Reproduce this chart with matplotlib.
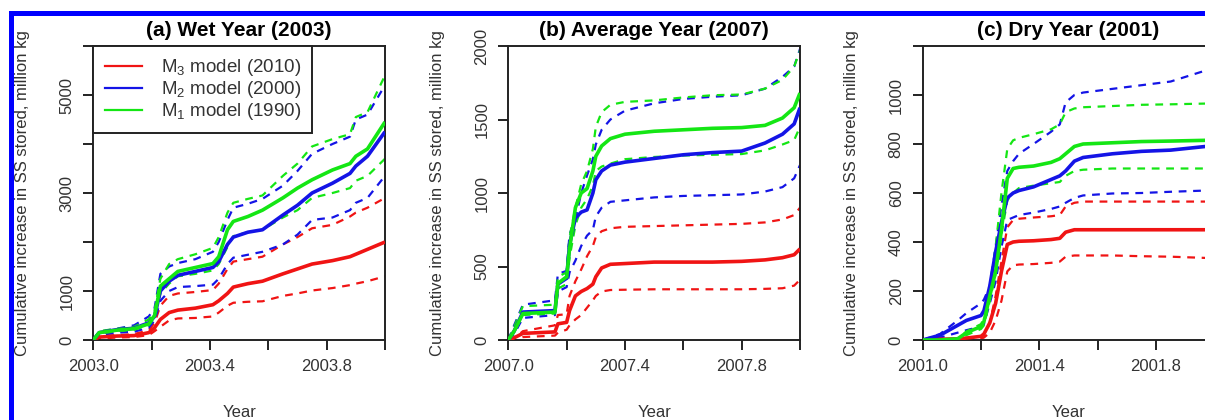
import matplotlib
matplotlib.use("Agg")
import matplotlib.pyplot as plt
from matplotlib.patches import Rectangle
import numpy as np

plt.rcParams['font.family'] = ['Liberation Sans', 'DejaVu Sans']
plt.rcParams['mathtext.fontset'] = 'custom'
plt.rcParams['mathtext.rm'] = 'Liberation Sans'

RED, BLUE, GREEN = '#f01414', '#1414e6', '#14e614'

# ---------------- data: (a) Wet Year (2003) ----------------
a_year = 2003.0
a_t = [0, .02, .08, .14, .19, .21, .23, .26, .29, .35, .41, .43, .46, .48,
       .53, .58, .65, .70, .75, .82, .88, .90, .94, 1.0]
a_m3_mid = [0, 60, 80, 90, 150, 250, 420, 560, 610, 650, 720, 800, 950, 1080,
            1150, 1200, 1350, 1450, 1550, 1620, 1700, 1750, 1850, 2000]
a_m3_hi = [0, 80, 100, 120, 200, 350, 700, 900, 950, 980, 1020, 1150, 1450, 1600,
           1650, 1700, 1950, 2100, 2280, 2350, 2520, 2600, 2700, 2900]
a_m3_lo = [0, 30, 50, 60, 100, 180, 270, 400, 440, 450, 480, 560, 700, 760,
           780, 790, 900, 950, 1010, 1060, 1120, 1150, 1200, 1300]
a_m2_mid = [0, 150, 210, 240, 350, 480, 1000, 1200, 1320, 1400, 1480, 1600, 1950, 2100,
            2200, 2250, 2550, 2750, 3000, 3200, 3400, 3550, 3750, 4250]
a_m2_hi = [0, 170, 230, 300, 480, 650, 1350, 1500, 1570, 1650, 1800, 2000, 2450, 2700,
           2780, 2880, 3150, 3450, 3800, 4000, 4150, 4500, 4600, 5200]
a_m2_lo = [0, 100, 150, 170, 250, 400, 800, 1000, 1080, 1100, 1130, 1250, 1550, 1680,
           1740, 1800, 1950, 2150, 2450, 2500, 2650, 2800, 2900, 3350]
a_m1_mid = [0, 150, 200, 230, 330, 500, 1100, 1250, 1400, 1480, 1560, 1700, 2250, 2420,
            2520, 2650, 2900, 3100, 3270, 3470, 3600, 3750, 3900, 4450]
a_m1_hi = [0, 180, 230, 270, 420, 600, 1250, 1550, 1650, 1750, 1880, 2100, 2600, 2800,
           2880, 2950, 3350, 3600, 3950, 4100, 4200, 4550, 4650, 5400]
a_m1_lo = [0, 130, 180, 210, 300, 450, 950, 1150, 1300, 1350, 1420, 1550, 1900, 2120,
           2200, 2250, 2500, 2650, 2900, 3000, 3100, 3250, 3350, 3700]

# ---------------- data: (b) Average Year (2007) ----------------
b_year = 2007.0
b_t = [0, .02, .05, .16, .17, .20, .21, .23, .25, .27, .29, .30, .32, .35,
       .40, .50, .60, .70, .80, .88, .94, .98, 1.0]
b_m3_mid = [0, 15, 45, 55, 110, 120, 200, 300, 330, 350, 380, 430, 490, 515,
            520, 530, 530, 530, 535, 545, 560, 580, 620]
b_m3_hi = [0, 10, 60, 100, 170, 175, 300, 400, 480, 570, 640, 700, 740, 760,
           770, 775, 780, 785, 790, 800, 820, 850, 900]
b_m3_lo = [0, 5, 20, 30, 50, 70, 100, 140, 170, 220, 270, 300, 330, 340,
           342, 345, 345, 345, 345, 348, 352, 370, 410]
b_m2_mid = [0, 60, 190, 200, 380, 420, 650, 830, 870, 885, 1000, 1090, 1150, 1190,
            1210, 1235, 1260, 1275, 1285, 1340, 1400, 1470, 1580]
b_m2_hi = [0, 100, 240, 270, 450, 470, 720, 820, 1000, 1120, 1230, 1330, 1430, 1500,
           1560, 1610, 1640, 1655, 1665, 1710, 1790, 1860, 1980]
b_m2_lo = [0, 40, 150, 170, 330, 360, 460, 540, 640, 710, 750, 840, 900, 940,
           950, 970, 980, 985, 990, 1010, 1040, 1100, 1190]
b_m1_mid = [0, 60, 180, 190, 385, 430, 620, 900, 1000, 1030, 1150, 1250, 1320, 1370,
            1400, 1420, 1430, 1440, 1445, 1460, 1510, 1580, 1680]
b_m1_hi = [0, 90, 230, 240, 430, 460, 700, 900, 1060, 1150, 1300, 1450, 1550, 1600,
           1620, 1630, 1650, 1665, 1670, 1710, 1770, 1860, 1970]
b_m1_lo = [0, 50, 170, 180, 350, 380, 560, 780, 900, 960, 1050, 1150, 1180, 1200,
           1230, 1245, 1255, 1260, 1265, 1290, 1330, 1360, 1450]

# ---------------- data: (c) Dry Year (2001) ----------------
c_year = 2001.0
c_t = [0, .06, .12, .15, .20, .21, .23, .25, .27, .29, .31, .33, .38, .44,
       .47, .49, .52, .55, .65, .75, .85, .97, 1.0]
c_m3_mid = [0, 3, 5, 8, 15, 25, 70, 150, 280, 390, 400, 403, 405, 410,
            415, 440, 450, 450, 450, 450, 450, 450, 450]
c_m3_hi = [0, 2, 4, 6, 10, 20, 70, 180, 320, 460, 490, 495, 500, 505,
           510, 545, 560, 565, 565, 565, 565, 565, 565]
c_m3_lo = [0, 1, 2, 3, 5, 10, 30, 80, 160, 280, 305, 308, 310, 315,
           320, 340, 345, 345, 345, 342, 340, 335, 335]
c_m2_mid = [0, 20, 60, 80, 100, 120, 220, 360, 480, 580, 600, 610, 625, 655,
            670, 690, 730, 745, 760, 770, 775, 790, 800]
c_m2_hi = [0, 25, 80, 110, 150, 165, 220, 380, 550, 690, 730, 760, 800, 850,
           880, 970, 1000, 1010, 1025, 1040, 1055, 1100, 1110]
c_m2_lo = [0, 10, 30, 40, 55, 65, 150, 240, 380, 490, 500, 510, 520, 535,
           545, 560, 580, 590, 598, 600, 605, 610, 612]
c_m1_mid = [0, 0, 5, 30, 55, 75, 180, 280, 450, 660, 700, 705, 710, 725,
            740, 760, 790, 800, 805, 810, 812, 815, 815]
c_m1_hi = [0, 0, 5, 35, 65, 90, 200, 380, 600, 780, 815, 825, 840, 860,
           880, 930, 945, 950, 955, 960, 962, 965, 965]
c_m1_lo = [0, 0, 3, 20, 45, 60, 160, 270, 430, 570, 600, 620, 630, 640,
           645, 670, 690, 695, 700, 700, 700, 700, 700]

titles = ['(a) Wet Year (2003)', '(b) Average Year (2007)', '(c) Dry Year (2001)']
legend_labels = ['M$_3$ model (2010)', 'M$_2$ model (2000)', 'M$_1$ model (1990)']
ylabel = 'Cumulative increase in SS stored, million kg'
xlabel = 'Year'

panels = [
    (a_year, a_t, [(a_m3_mid, a_m3_hi, a_m3_lo), (a_m2_mid, a_m2_hi, a_m2_lo), (a_m1_mid, a_m1_hi, a_m1_lo)],
     6000, 1000, ['0', '1000', '', '3000', '', '5000', '']),
    (b_year, b_t, [(b_m3_mid, b_m3_hi, b_m3_lo), (b_m2_mid, b_m2_hi, b_m2_lo), (b_m1_mid, b_m1_hi, b_m1_lo)],
     2000, 500, ['0', '500', '1000', '1500', '2000']),
    (c_year, c_t, [(c_m3_mid, c_m3_hi, c_m3_lo), (c_m2_mid, c_m2_hi, c_m2_lo), (c_m1_mid, c_m1_hi, c_m1_lo)],
     1200, 200, ['0', '200', '400', '600', '800', '1000', '']),
]

W, H = 1205, 420
fig = plt.figure(figsize=(W / 100, H / 100), dpi=100)
lefts = [93.3, 508.3, 922.7]
axw, axb, axh = 291.7, 340, 294
colors = [RED, BLUE, GREEN]
TXT = '#333333'

for i, (yr, t, series, ymax, ystep, ylabels) in enumerate(panels):
    ax = fig.add_axes([lefts[i] / W, (H - axb) / H, axw / W, axh / H])
    x = yr + np.array(t)
    for (mid, hi, lo), col in zip(series, colors):
        ax.plot(x, hi, color=col, lw=1.6, ls=(0, (3.5, 3)), zorder=2)
        ax.plot(x, lo, color=col, lw=1.6, ls=(0, (3.5, 3)), zorder=2)
    for (mid, hi, lo), col in zip(series, colors):
        ax.plot(x, mid, color=col, lw=2.6, solid_capstyle='butt', zorder=3)
    ax.set_xlim(yr, yr + 1.0)
    ax.set_ylim(0, ymax)
    xt = yr + np.arange(6) * 0.2
    ax.set_xticks(xt)
    ax.set_xticklabels([f'{yr:.1f}', '', f'{yr + 0.4:.1f}', '', f'{yr + 0.8:.1f}', ''])
    ax.set_yticks(np.arange(0, ymax + 1, ystep))
    ax.set_yticklabels(ylabels, rotation=90, va='center')
    ax.tick_params(direction='out', length=7.2, width=1.4, colors='#222222',
                   labelcolor=TXT, labelsize=12, pad=6.5)
    for s in ax.spines.values():
        s.set_linewidth(1.4)
        s.set_color('#222222')
    ax.set_title(titles[i], fontsize=15, fontweight='bold', pad=7)
    ax.set_ylabel(ylabel, fontsize=12, color=TXT)
    ax.yaxis.set_label_coords(-0.218, 0.5)
    ax.set_xlabel(xlabel, fontsize=12, color=TXT)
    ax.xaxis.set_label_coords(0.5, -0.22)
    if i == 0:
        handles = [plt.Line2D([], [], color=c, lw=1.6) for c in colors]
        leg = ax.legend(handles, legend_labels, loc='upper left', bbox_to_anchor=(0, 1),
                        borderaxespad=0, fontsize=13.5, handlelength=2.0, handletextpad=1.0,
                        labelspacing=0.05, borderpad=0.6, fancybox=False, framealpha=1,
                        edgecolor='#222222', labelcolor=TXT)
        leg.get_frame().set_linewidth(1.4)

# blue frame around the figure
fig.patches.append(Rectangle((10.5 / W, -0.2), 2.0, (H - 12.5) / H + 0.2,
                             transform=fig.transFigure, fill=False,
                             edgecolor='#0000ff', lw=3.6, zorder=10))

fig.savefig('out.png', dpi=100)
